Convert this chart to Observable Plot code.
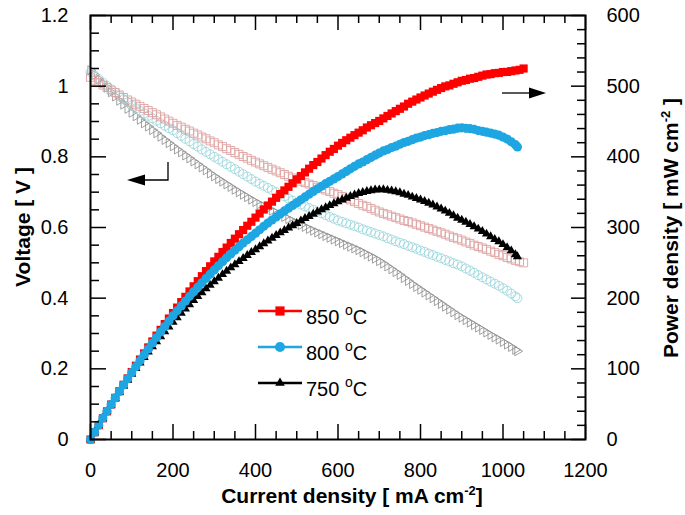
<!DOCTYPE html>
<html><head><meta charset="utf-8">
<script src="https://cdn.jsdelivr.net/npm/d3@7"></script>
<script src="https://cdn.jsdelivr.net/npm/@observablehq/plot@0.6"></script>
<style>
body{margin:0;background:#fff;}
svg{font-family:"Liberation Sans",Arial,sans-serif;}
</style>
</head><body><div id="chart"></div>
<script>
// ---- data ----
const current850 = [0,10,20,30,40,50,60,70,80,90,100,110,120,130,140,150,160,170,180,190,200,210,220,230,240,250,260,270,280,290,300,310,320,330,340,350,360,370,380,390,400,410,420,430,440,450,460,470,480,490,500,510,520,530,540,550,560,570,580,590,600,610,620,630,640,650,660,670,680,690,700,710,720,730,740,750,760,770,780,790,800,810,820,830,840,850,860,870,880,890,900,910,920,930,940,950,960,970,980,990,1000,1010,1020,1030,1040,1050];
const voltage850 = [1.025,1.017,1.010,1.003,0.996,0.989,0.982,0.975,0.968,0.961,0.955,0.949,0.943,0.937,0.931,0.925,0.919,0.913,0.907,0.901,0.895,0.889,0.884,0.878,0.873,0.867,0.862,0.856,0.851,0.845,0.840,0.834,0.829,0.823,0.818,0.812,0.807,0.801,0.796,0.790,0.785,0.780,0.775,0.770,0.765,0.760,0.755,0.750,0.745,0.740,0.736,0.731,0.727,0.723,0.719,0.714,0.710,0.706,0.702,0.697,0.693,0.688,0.683,0.678,0.673,0.668,0.663,0.659,0.654,0.649,0.644,0.640,0.636,0.632,0.628,0.624,0.620,0.617,0.613,0.609,0.605,0.601,0.597,0.593,0.589,0.585,0.581,0.576,0.572,0.568,0.564,0.559,0.555,0.550,0.546,0.542,0.538,0.533,0.529,0.524,0.520,0.515,0.511,0.507,0.503,0.500];
const power850 = [0,10.2,20.2,30.1,39.8,49.5,58.9,68.3,77.4,86.5,95.5,104.4,113.2,121.8,130.3,138.8,147.0,155.2,163.3,171.2,179.0,186.7,194.5,201.9,209.5,216.8,224.1,231.1,238.3,245.1,252.0,258.5,265.3,271.6,278.1,284.2,290.5,296.4,302.5,308.1,314.0,319.8,325.5,331.1,336.6,342.0,347.3,352.5,357.6,362.6,368.0,372.8,378.0,383.2,388.3,392.7,397.6,402.4,407.2,411.2,415.8,419.7,423.5,427.1,430.7,434.2,437.6,441.5,444.7,447.8,450.8,454.4,457.9,461.4,464.7,468.0,471.2,475.1,478.1,481.1,484.0,486.8,489.5,492.2,494.8,497.3,499.7,501.1,503.4,505.5,507.6,508.7,510.6,511.5,513.2,514.9,516.5,517.0,518.4,518.8,520.0,520.2,521.2,522.2,523.1,525.0];

const current800 = [0,10,20,30,40,50,60,70,80,90,100,110,120,130,140,150,160,170,180,190,200,210,220,230,240,250,260,270,280,290,300,310,320,330,340,350,360,370,380,390,400,410,420,430,440,450,460,470,480,490,500,510,520,530,540,550,560,570,580,590,600,610,620,630,640,650,660,670,680,690,700,710,720,730,740,750,760,770,780,790,800,810,820,830,840,850,860,870,880,890,900,910,920,930,940,950,960,970,980,990,1000,1010,1020,1030,1035];
const voltage800 = [1.040,1.030,1.020,1.010,1.001,0.991,0.982,0.972,0.963,0.954,0.945,0.937,0.930,0.923,0.916,0.909,0.902,0.895,0.888,0.881,0.875,0.867,0.859,0.851,0.844,0.836,0.829,0.821,0.814,0.807,0.800,0.793,0.786,0.779,0.772,0.765,0.758,0.751,0.744,0.737,0.730,0.724,0.718,0.712,0.706,0.700,0.694,0.688,0.682,0.676,0.670,0.665,0.660,0.655,0.650,0.645,0.640,0.635,0.630,0.625,0.620,0.616,0.612,0.608,0.604,0.600,0.595,0.591,0.587,0.583,0.579,0.575,0.570,0.566,0.561,0.557,0.553,0.548,0.544,0.540,0.535,0.531,0.526,0.522,0.517,0.513,0.508,0.504,0.499,0.495,0.490,0.484,0.478,0.472,0.465,0.459,0.453,0.447,0.441,0.435,0.428,0.421,0.413,0.405,0.400];
const power800 = [0,10.3,20.4,30.3,40.0,49.6,58.9,68.0,77.0,85.9,94.5,103.1,111.6,120.0,128.2,136.4,144.3,152.2,159.8,167.4,175.0,182.1,189.0,195.7,202.6,209.0,215.5,221.7,227.9,234.0,240.0,245.8,251.5,257.1,262.5,267.8,272.9,277.9,282.7,287.4,292.0,296.8,301.6,306.2,310.6,315.0,319.2,323.4,327.4,331.2,335.0,339.2,343.2,347.2,351.0,354.8,358.4,362.0,365.4,368.8,372.0,375.8,379.4,383.0,386.6,390.0,392.7,396.0,399.2,402.3,405.3,408.3,410.4,413.2,415.1,417.8,420.3,422.0,424.3,426.6,428.0,430.1,431.3,433.3,434.3,436.1,436.9,438.5,439.1,440.6,441.0,440.4,439.8,439.0,437.1,436.1,434.9,433.6,432.2,430.7,428.0,425.2,421.3,417.2,414.0];

const current750 = [0,10,20,30,40,50,60,70,80,90,100,110,120,130,140,150,160,170,180,190,200,210,220,230,240,250,260,270,280,290,300,310,320,330,340,350,360,370,380,390,400,410,420,430,440,450,460,470,480,490,500,510,520,530,540,550,560,570,580,590,600,610,620,630,640,650,660,670,680,690,700,710,720,730,740,750,760,770,780,790,800,810,820,830,840,850,860,870,880,890,900,910,920,930,940,950,960,970,980,990,1000,1010,1020,1030,1035];
const voltage750 = [1.045,1.032,1.020,1.008,0.996,0.983,0.971,0.959,0.948,0.936,0.925,0.915,0.905,0.895,0.886,0.876,0.867,0.857,0.848,0.839,0.830,0.821,0.813,0.804,0.796,0.787,0.779,0.770,0.762,0.753,0.745,0.737,0.730,0.722,0.715,0.707,0.700,0.693,0.686,0.679,0.672,0.666,0.660,0.654,0.648,0.642,0.636,0.630,0.624,0.618,0.612,0.607,0.602,0.596,0.591,0.586,0.581,0.576,0.571,0.566,0.561,0.556,0.551,0.546,0.541,0.536,0.530,0.524,0.518,0.512,0.505,0.498,0.490,0.482,0.474,0.466,0.457,0.449,0.440,0.432,0.424,0.416,0.408,0.400,0.392,0.384,0.376,0.368,0.360,0.352,0.345,0.338,0.331,0.324,0.317,0.310,0.303,0.296,0.289,0.283,0.276,0.269,0.262,0.254,0.250];
const power750 = [0,10.3,20.4,30.2,39.8,49.2,58.3,67.1,75.8,84.2,92.5,100.7,108.6,116.4,124.0,131.4,138.7,145.7,152.6,159.4,166.0,172.4,178.9,184.9,191.0,196.8,202.5,207.9,213.4,218.4,223.5,228.5,233.6,238.3,243.1,247.5,252.0,256.4,260.7,264.8,268.8,273.1,277.2,281.2,285.1,288.9,292.6,296.1,299.5,302.8,306.0,309.6,313.0,315.9,319.1,322.3,325.4,328.3,331.2,333.9,336.6,339.2,341.6,344.0,346.2,348.4,349.8,351.1,352.2,353.3,353.5,353.6,352.8,351.9,350.8,349.5,347.3,345.7,343.2,341.3,339.2,337.0,334.6,332.0,329.3,326.4,323.4,320.2,316.8,313.3,310.5,307.6,304.5,301.3,298.0,294.5,290.9,287.1,283.2,280.2,276.0,271.7,267.2,261.6,258.8];

const xTicks = [0,200,400,600,800,1000,1200];
const voltageTicks = [0,0.2,0.4,0.6,0.8,1,1.2];
const powerTicks = [0,100,200,300,400,500,600];
const legendLabels = ["850", "800", "750"];

// ---- styling ----
const P2V = 1.2 / 600; // right axis (power) mapped onto the voltage scale
const red = "#ff0000", blue = "#1ea6e2", black = "#000000";
const paleRed = "#dea0a0", paleCyan = "#9ad6db", paleGray = "#8a8a8a";

const rows = (cur, val, k = 1) => cur.map((c, i) => ({x: c, y: val[i] * k}));

const xMinor = d3.range(0, 1201, 50).filter(d => d % 200 !== 0);
const yMinor = d3.range(0, 25, 1).filter(d => d % 4 !== 0).map(d => d * 0.05);
const pMinor = d3.range(0, 601, 20).filter(d => d % 100 !== 0).map(d => d * P2V);

const W = 685, H = 515, mL = 90, mR = 100, mT = 15, mB = 76;
const fw = W - mL - mR, fh = H - mT - mB;
const fs = 20;
const tk = {stroke: "#000", strokeWidth: 1.5};

const svg = Plot.plot({
  width: W, height: H,
  marginLeft: mL, marginRight: mR, marginTop: mT, marginBottom: mB,
  style: {fontFamily: '"Liberation Sans", Arial, sans-serif', background: "#fff", color: "#000", overflow: "visible"},
  x: {domain: [0, 1200], label: null},
  y: {domain: [0, 1.2], label: null},
  marks: [
    // voltage (open markers)
    Plot.dot(rows(current750, voltage750), {x: "x", y: "y", symbol: "triangle", rotate: 90, r: 3.4, stroke: paleGray, strokeWidth: 0.8, fill: "none"}),
    Plot.dot(rows(current800, voltage800), {x: "x", y: "y", symbol: "circle", r: 4.5, stroke: paleCyan, strokeWidth: 0.9, fill: "none"}),
    Plot.dot(rows(current850, voltage850), {x: "x", y: "y", symbol: "square", r: 4.5, stroke: paleRed, strokeWidth: 0.9, fill: "none"}),
    // power (filled markers)
    Plot.dot(rows(current850, power850, P2V), {x: "x", y: "y", symbol: "square", r: 4.6, fill: red}),
    Plot.dot(rows(current750, power750, P2V), {x: "x", y: "y", symbol: "triangle", r: 3.4, fill: black}),
    Plot.dot(rows(current800, power800, P2V), {x: "x", y: "y", symbol: "circle", r: 4.6, fill: blue}),
    // inward ticks
    Plot.ruleX(xMinor, {x: d => d, insetTop: fh - 8, ...tk}),
    Plot.ruleX(xTicks, {x: d => d, insetTop: fh - 15, ...tk}),
    Plot.ruleX(xMinor, {x: d => d, insetBottom: fh - 8, ...tk}),
    Plot.ruleX(xTicks, {x: d => d, insetBottom: fh - 15, ...tk}),
    Plot.ruleY(yMinor, {y: d => d, insetRight: fw - 9, ...tk}),
    Plot.ruleY(voltageTicks, {y: d => d, insetRight: fw - 16, ...tk}),
    Plot.ruleY(pMinor, {y: d => d, insetLeft: fw - 8, ...tk}),
    Plot.ruleY(powerTicks.map(p => p * P2V), {y: d => d, insetLeft: fw - 14, ...tk}),
    // frame
    Plot.frame({stroke: "#000", strokeWidth: 2}),
    // tick labels
    Plot.axisX({anchor: "bottom", ticks: xTicks, tickSize: 0, tickPadding: 23, fontSize: fs, tickFormat: d => String(d), label: null}),
    Plot.axisY({anchor: "left", ticks: voltageTicks, tickSize: 0, tickPadding: 22, fontSize: fs, tickFormat: d => String(d), label: null}),
    Plot.axisY({anchor: "right", ticks: powerTicks.map(p => p * P2V), tickSize: 0, tickPadding: 21, fontSize: fs, tickFormat: (d, i) => String(powerTicks[i]), label: null})
  ]
});

document.getElementById("chart").appendChild(svg);

// ---- titles, legend and arrows ----
const g = d3.select(svg).append("g").attr("font-family", '"Liberation Sans", Arial, sans-serif').attr("fill", "#000");

// x title
const xt = g.append("text").attr("x", 352).attr("y", 503).attr("text-anchor", "middle")
  .attr("font-weight", "bold").attr("font-size", 21);
xt.append("tspan").text("Current density [ mA cm");
xt.append("tspan").text("-2").attr("font-size", 13).attr("dy", -8);
xt.append("tspan").text("]").attr("dy", 8);

// left title
g.append("text").attr("transform", "translate(30,227) rotate(-90)").attr("text-anchor", "middle")
  .attr("font-weight", "bold").attr("font-size", 21).text("Voltage [ V ]");

// right title
const rt = g.append("text").attr("transform", "translate(678,228) rotate(-90)").attr("text-anchor", "middle")
  .attr("font-weight", "bold").attr("font-size", 21);
rt.append("tspan").text("Power density [ mW cm");
rt.append("tspan").text("-2").attr("font-size", 13).attr("dy", -8);
rt.append("tspan").text(" ]").attr("dy", 8);

// legend
const legendColors = [red, blue, black];
const legendSymbols = [d3.symbolSquare, d3.symbolCircle, d3.symbolTriangle];
const legendSizes = [85, 80, 40];
legendLabels.forEach((lab, i) => {
  const y = 311 + i * 36;
  g.append("line").attr("x1", 258).attr("x2", 302).attr("y1", y).attr("y2", y)
    .attr("stroke", legendColors[i]).attr("stroke-width", 2.5);
  g.append("path").attr("d", d3.symbol(legendSymbols[i], legendSizes[i])())
    .attr("transform", `translate(280,${y})`).attr("fill", legendColors[i]);
  const t = g.append("text").attr("x", 306).attr("y", y + 13).attr("font-size", fs).attr("text-anchor", "start");
  t.append("tspan").text(lab + " ");
  t.append("tspan").text("o").attr("font-size", 14).attr("dy", -9);
  t.append("tspan").text("C").attr("dy", 9);
});

// arrows
g.append("path").attr("d", "M142,180 L168,180 L168,162").attr("fill", "none").attr("stroke", "#000").attr("stroke-width", 1.3);
g.append("path").attr("d", "M127,180 L145,174.5 L145,185.5 Z").attr("fill", "#000");
g.append("path").attr("d", "M502,93 L532,93").attr("fill", "none").attr("stroke", "#000").attr("stroke-width", 1.3);
g.append("path").attr("d", "M546,93 L529,87.5 L529,98.5 Z").attr("fill", "#000");
</script>
</body></html>
